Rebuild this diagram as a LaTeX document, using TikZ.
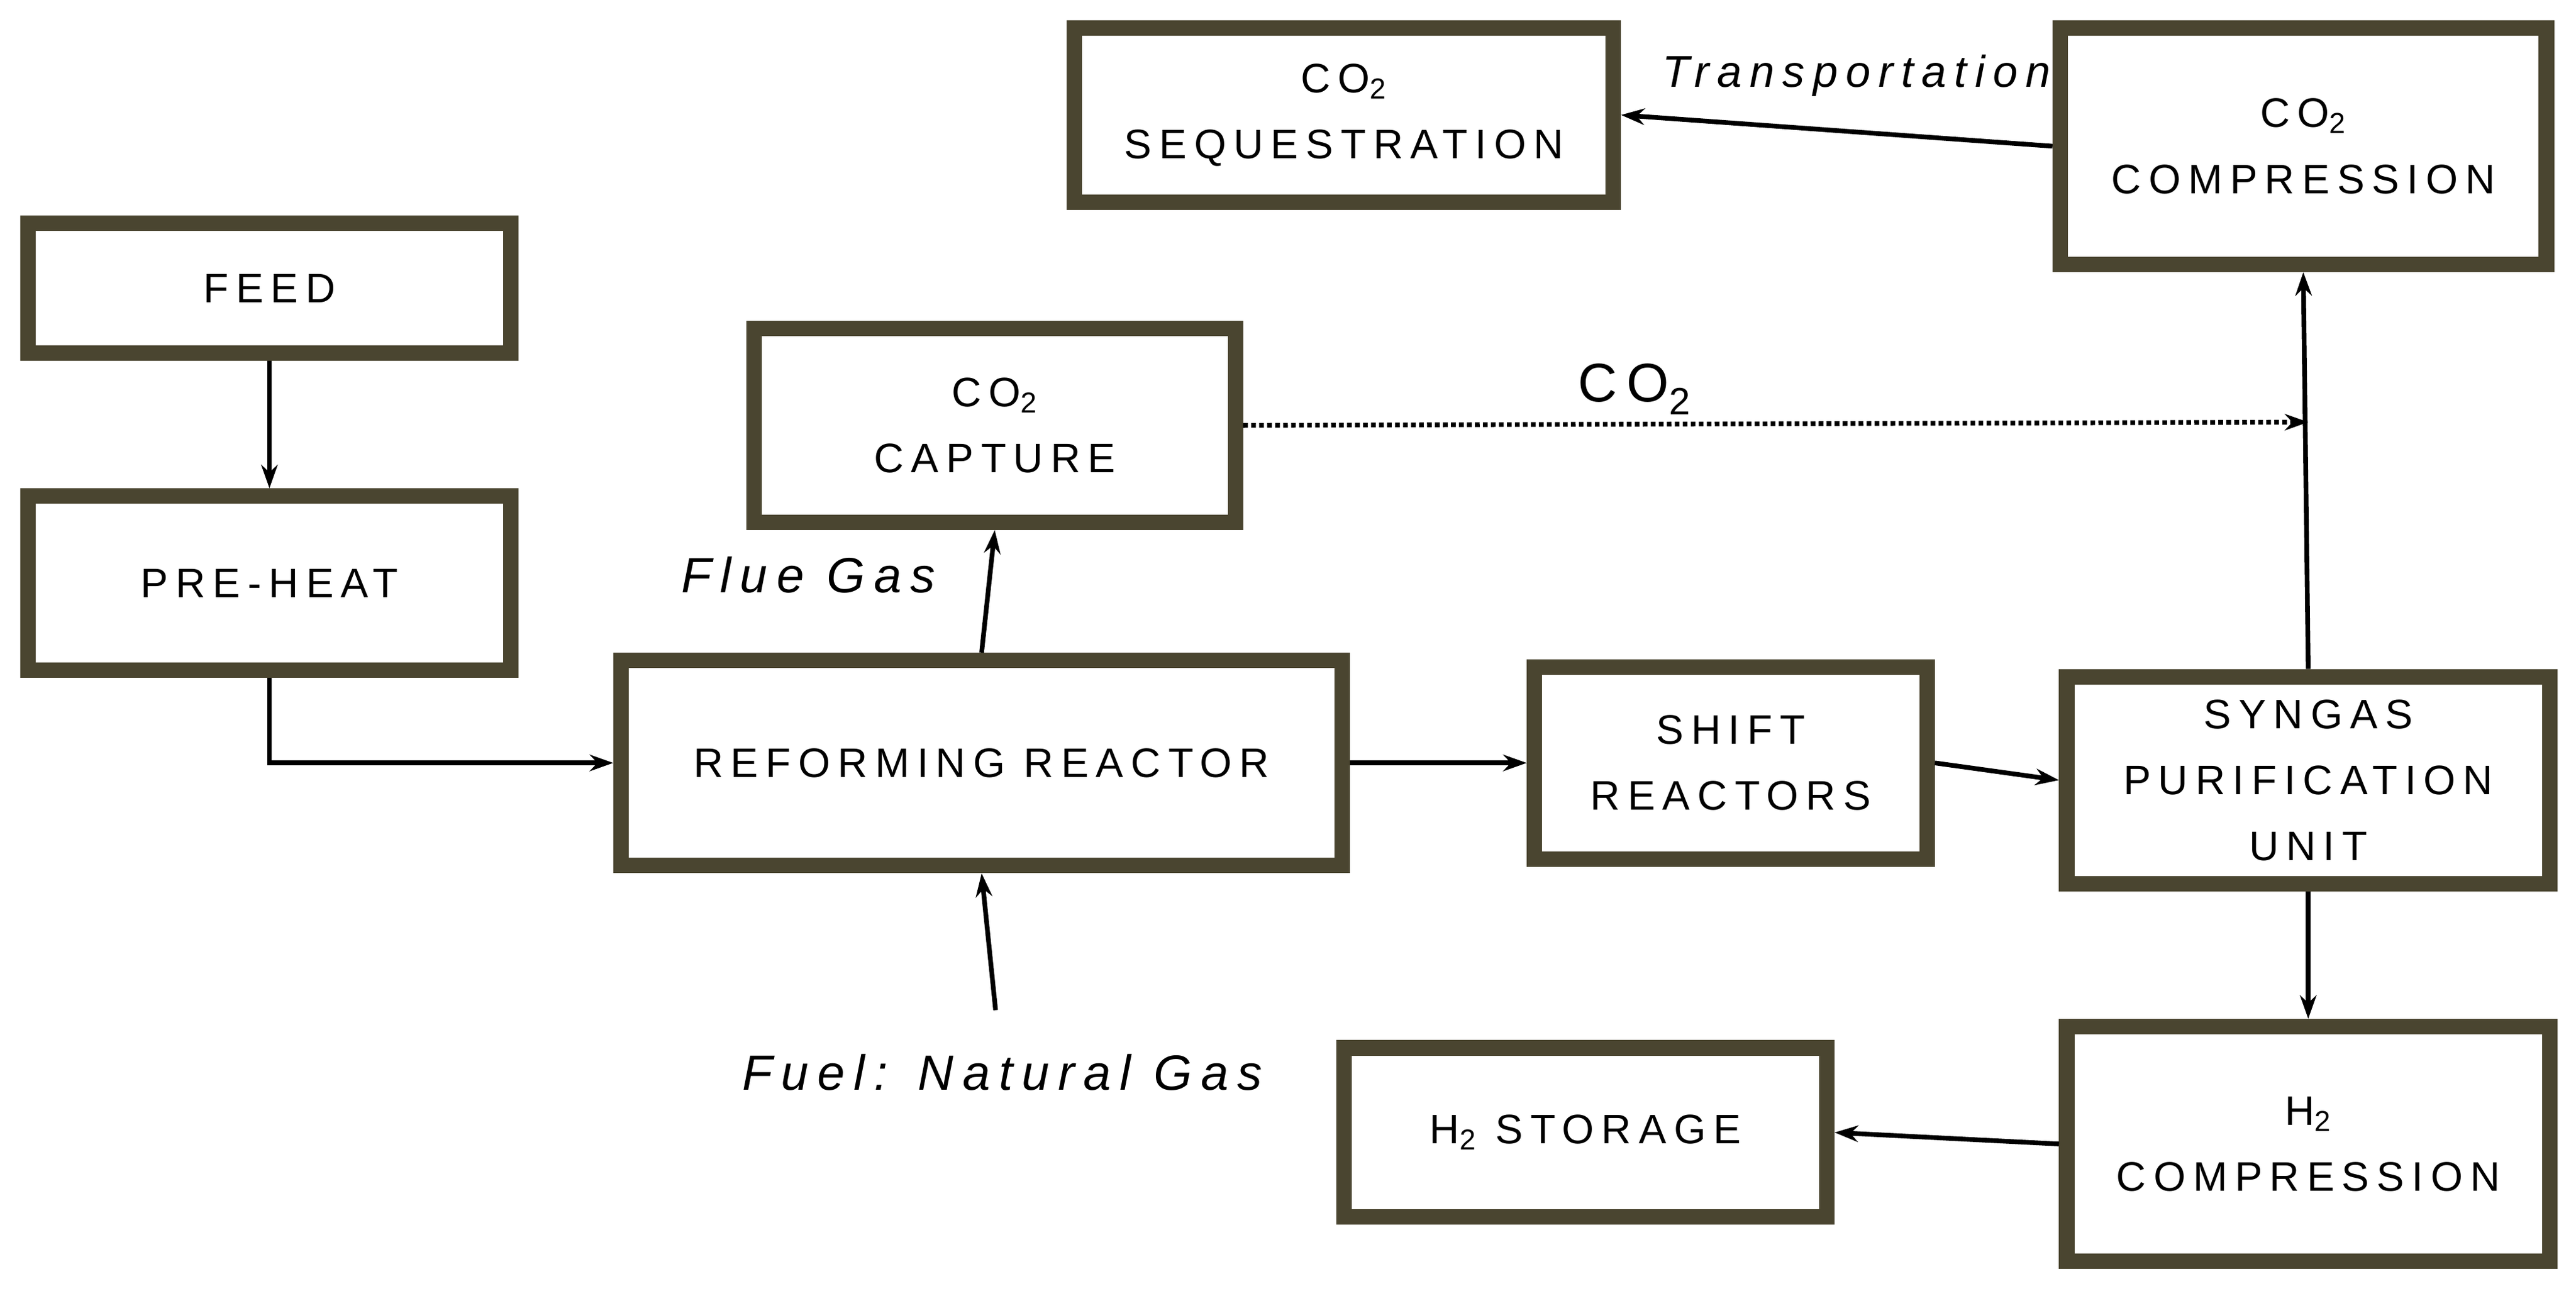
\documentclass[tikz,border=0pt]{standalone}
\usepackage{fontspec}
\setmainfont{Liberation Sans}[LetterSpace=18]
\usetikzlibrary{arrows.meta}
\definecolor{olive}{HTML}{4A4530}
\begin{document}
\begin{tikzpicture}[x=0.035cm,y=-0.035cm,
  box/.style 2 args={draw=olive,line width=0.33cm,fill=white,align=center,
    minimum width={#1*0.035cm},minimum height={#2*0.035cm},inner sep=0pt,
    font=\fontsize{25}{40}\selectfont},
  arr/.style={line width=0.1cm,-{Stealth[length=0.5cm,width=0.35cm]}},
  lab/.style={font=\fontsize{27}{32}\selectfont\itshape}]
\useasboundingbox (0,0) rectangle (1568,789);
\node[box={294}{79}] (feed) at (164,175.5) {FEED};
\node[box={294}{106}] (pre) at (164,355) {PRE-HEAT};
\node[box={293}{118}] (cap) at (605.5,259) {CO\textsubscript{2}\\CAPTURE};
\node[box={439}{125}] (ref) at (597.5,464.5) {REFORMING REACTOR};
\node[box={239}{117}] (shift) at (1053.5,464.5) {SHIFT\\REACTORS};
\node[box={294}{126}] (syn) at (1405,475) {SYNGAS\\PURIFICATION\\UNIT};
\node[box={328}{106}] (seq) at (818,70) {CO\textsubscript{2}\\SEQUESTRATION};
\node[box={296}{144}] (co2c) at (1402,89) {CO\textsubscript{2}\\COMPRESSION};
\node[box={294}{103}] (sto) at (965,689.5) {H\textsubscript{2} STORAGE};
\node[box={294}{143}] (h2c) at (1405,696.5) {H\textsubscript{2}\\COMPRESSION};
\coordinate (fuel) at (606,615);
\coordinate (dotend) at (1405,257);
\draw[arr] (feed.south) -- (pre.north);
\draw[arr] (pre.south) |- (ref.west);
\draw[arr] (ref.north) -- (cap.south);
\draw[arr] (fuel) -- (ref.south);
\draw[arr] (ref.east) -- (shift.west);
\draw[arr] (shift.east) -- (syn.west);
\draw[arr] (syn.north) -- (co2c.south);
\draw[arr,dotted] (cap.east) -- (dotend);
\draw[arr] (co2c.west) -- (seq.east);
\draw[arr] (syn.south) -- (h2c.north);
\draw[arr] (h2c.west) -- (sto.east);
\node[lab] (tr) at (1130,46) {Transportation};
\node[font=\fontsize{33}{40}\selectfont] (co2l) at (995,237) {CO\textsubscript{2}};
\node[lab,font=\fontsize{30}{36}\selectfont\itshape] (flue) at (492,350) {Flue Gas};
\node[lab,font=\fontsize{30}{36}\selectfont\itshape] (fl) at (610,653) {Fuel: Natural Gas};
\end{tikzpicture}
\end{document}
